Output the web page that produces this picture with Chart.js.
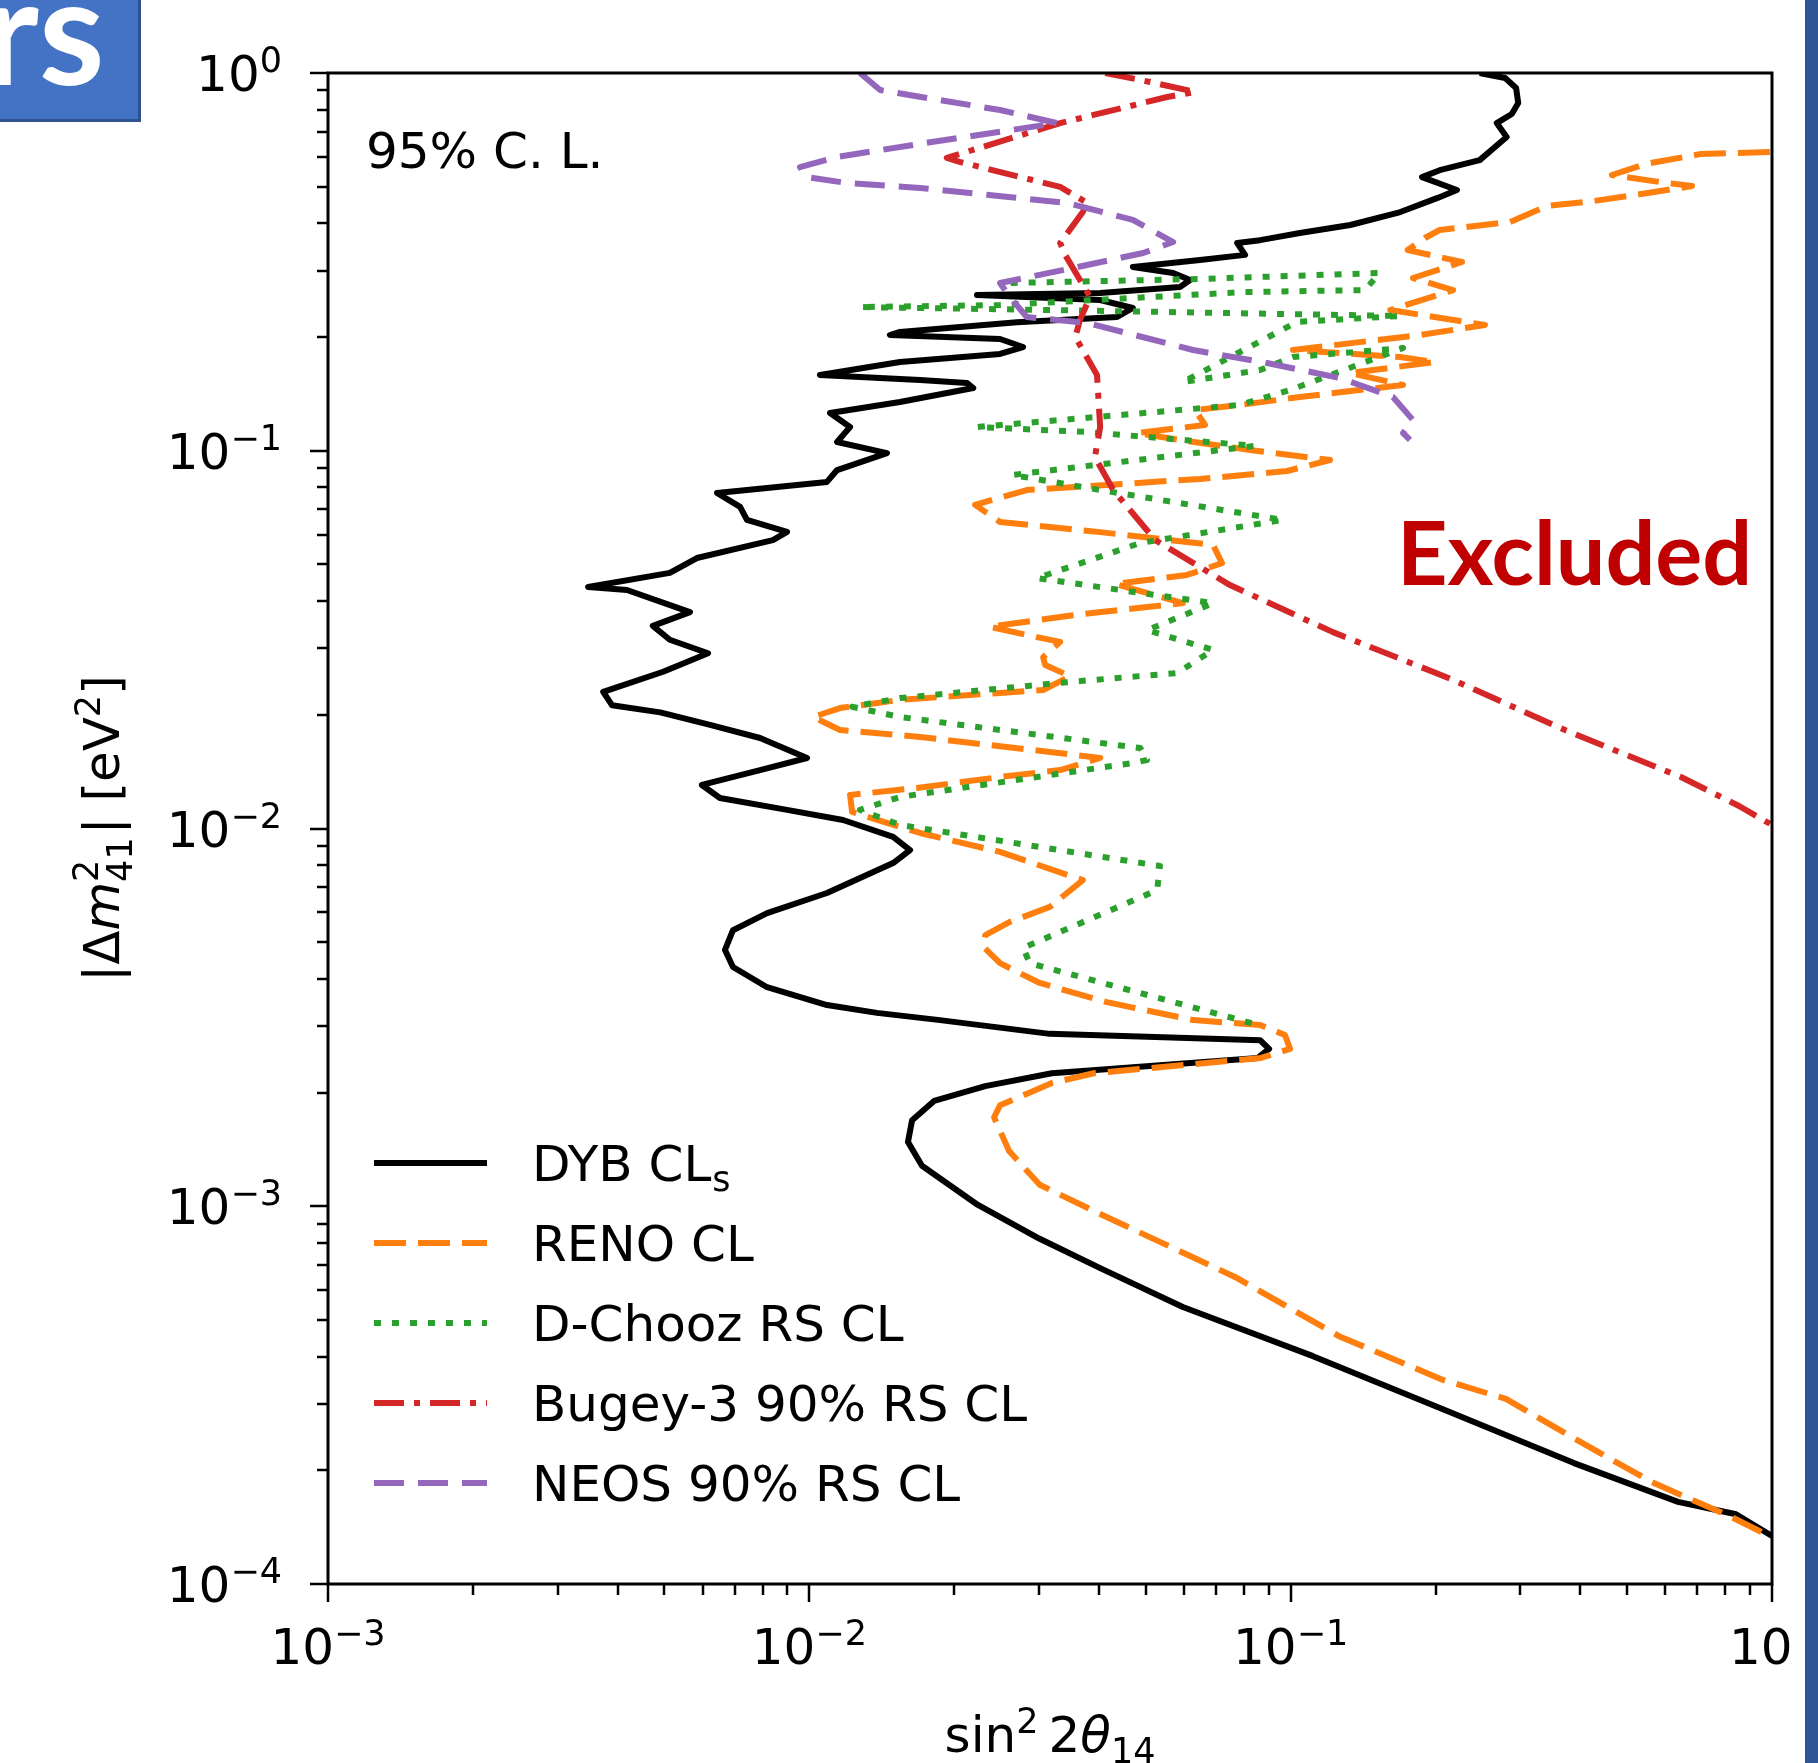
<!DOCTYPE html>
<html>
<head>
<meta charset="utf-8">
<script src="https://cdn.jsdelivr.net/npm/chart.js@4.4.1/dist/chart.umd.min.js"></script>
<style>
  body { margin: 0; background: #fff; }
  #wrap { position: relative; width: 1818px; height: 1763px; overflow: hidden; background: #fff; }
  #plot { position: absolute; left: 0; top: 0; }
  #slide-box { position: absolute; left: -4px; top: -4px; width: 145px; height: 126px; background: #4472C4; border: 3px solid #2F528F; box-sizing: border-box; }
  #slide-text { position: absolute; left: -17px; top: -48px; font: bold 150px Lato, sans-serif; line-height: 150px; color: #fff; }
  #crop { position: absolute; left: 1793px; top: 0; width: 12px; height: 1763px; background: #fff; }
  #side-bar { position: absolute; left: 1805px; top: 0; width: 13px; height: 1763px; background: #2F5597; }
  #excluded { position: absolute; left: 1397px; top: 507px; font: bold 88px Lato, sans-serif; line-height: 88px; color: #C00000; }
</style>
</head>
<body>
<div id="wrap">
  <canvas id="plot" width="1818" height="1763"></canvas>
  <div id="slide-box"></div>
  <div id="slide-text">rs</div>
  <div id="crop"></div>
  <div id="side-bar"></div>
  <div id="excluded">Excluded</div>
</div>
<script>
// axis ticks (base^exponent)
var xTickValues = [0.001, 0.01, 0.1, 1];
var xTickLabels = ['10^−3', '10^−2', '10^−1', '10^0'];
var yTickValues = [0.0001, 0.001, 0.01, 0.1, 1];
var yTickLabels = ['10^−4', '10^−3', '10^−2', '10^−1', '10^0'];

// contours, [sin^2 2theta14, dm2_41]
var dybCurve = [
  [0.247, 1.0], [0.279, 0.970], [0.294, 0.913], [0.297, 0.833], [0.288, 0.779], [0.268, 0.737],
  [0.281, 0.677], [0.247, 0.588], [0.204, 0.553], [0.1875, 0.530], [0.2215, 0.490], [0.202, 0.467],
  [0.169, 0.4285], [0.133, 0.396], [0.1045, 0.377], [0.0864, 0.361], [0.0774, 0.355], [0.0804, 0.330],
  [0.0648, 0.320], [0.047, 0.3065], [0.057, 0.2955], [0.0618, 0.283], [0.0589, 0.2713], [0.0402, 0.2616],
  [0.0223, 0.2584], [0.0402, 0.2506], [0.047, 0.2387], [0.0436, 0.226], [0.027, 0.219], [0.01543, 0.2063],
  [0.0147, 0.2025], [0.0249, 0.1976], [0.0278, 0.1882], [0.0249, 0.1804], [0.01543, 0.1718], [0.01052, 0.1587],
  [0.01698, 0.154], [0.02127, 0.1511], [0.0219, 0.1466], [0.01543, 0.1346], [0.01104, 0.1259], [0.01215, 0.1156],
  [0.01142, 0.1055], [0.0145, 0.0986], [0.01142, 0.0889], [0.01088, 0.0827], [0.00643, 0.0773], [0.00718, 0.071],
  [0.00742, 0.0656], [0.00899, 0.061], [0.0084, 0.058], [0.00584, 0.052], [0.00513, 0.0475], [0.00347, 0.0436],
  [0.00418, 0.0428], [0.00565, 0.0374], [0.00473, 0.0344], [0.00513, 0.0316], [0.00616, 0.0291], [0.00497, 0.026],
  [0.00373, 0.023], [0.00389, 0.0212], [0.0049, 0.0203], [0.00622, 0.0188], [0.0079, 0.01736], [0.00989, 0.01537],
  [0.0079, 0.01428], [0.00598, 0.01304], [0.00652, 0.01204], [0.00899, 0.0112], [0.01175, 0.01053], [0.01493, 0.0095],
  [0.01619, 0.00877], [0.01493, 0.0081], [0.01088, 0.00675], [0.00817, 0.00597], [0.00694, 0.00538], [0.00668, 0.00477],
  [0.00694, 0.0043], [0.00817, 0.0038], [0.01088, 0.00341], [0.01382, 0.00325], [0.01868, 0.00311], [0.0316, 0.00286],
  [0.0864, 0.00275], [0.0902, 0.00261], [0.0855, 0.00247], [0.0319, 0.00225], [0.0232, 0.00208], [0.01816, 0.0019],
  [0.01635, 0.00169], [0.01603, 0.00148], [0.01714, 0.00128], [0.0224, 0.001008], [0.0301, 0.00082], [0.0402, 0.000686],
  [0.0597, 0.000541], [0.1113, 0.000401], [0.2072, 0.00029], [0.3878, 0.000209], [0.638, 0.000165], [0.842, 0.000153],
  [1.0, 0.000134]
];
var renoCurve = [
  [0.99, 0.618], [0.709, 0.610], [0.545, 0.574], [0.465, 0.537], [0.585, 0.5145], [0.682, 0.502],
  [0.519, 0.4754], [0.427, 0.4584], [0.341, 0.4446], [0.2855, 0.4033], [0.204, 0.384], [0.190, 0.3658],
  [0.175, 0.340], [0.227, 0.316], [0.1795, 0.2866], [0.2175, 0.2663], [0.161, 0.2358], [0.2533, 0.2153],
  [0.1856, 0.2025], [0.1011, 0.1848], [0.1687, 0.177], [0.1994, 0.1718], [0.1328, 0.1606], [0.1712, 0.1493],
  [0.1045, 0.1388], [0.0785, 0.1322], [0.0633, 0.1282], [0.0664, 0.117], [0.048, 0.1114], [0.0589, 0.1068],
  [0.0823, 0.1005], [0.1207, 0.0945], [0.0983, 0.0884], [0.0648, 0.0842], [0.0283, 0.0787], [0.0221, 0.0719],
  [0.0249, 0.0648], [0.0402, 0.0609], [0.069, 0.0563], [0.072, 0.0504], [0.0609, 0.0469], [0.0432, 0.0444],
  [0.0597, 0.0395], [0.0487, 0.0384], [0.0353, 0.0367], [0.0237, 0.0342], [0.0297, 0.0321], [0.0332, 0.0312],
  [0.0306, 0.0284], [0.0309, 0.0271], [0.0348, 0.0253], [0.0306, 0.02326], [0.0249, 0.02284], [0.01543, 0.0219],
  [0.01158, 0.02084], [0.01018, 0.01973], [0.01158, 0.01823], [0.01698, 0.01747], [0.0316, 0.01594], [0.0402, 0.01537],
  [0.0332, 0.01428], [0.0249, 0.01369], [0.01674, 0.0128], [0.01215, 0.01227], [0.01227, 0.01106], [0.01698, 0.00973],
  [0.0249, 0.00867], [0.037, 0.0073], [0.0316, 0.0062], [0.0261, 0.00566], [0.0232, 0.00522], [0.023, 0.00486],
  [0.0249, 0.0044], [0.0301, 0.0039], [0.0415, 0.00347], [0.0627, 0.00311], [0.0864, 0.00302], [0.0973, 0.00284],
  [0.0997, 0.00261], [0.0868, 0.00247], [0.039, 0.00225], [0.0319, 0.00212], [0.0249, 0.00185], [0.0242, 0.00172],
  [0.026, 0.0014], [0.0301, 0.00114], [0.0402, 0.000954], [0.0766, 0.00065], [0.126, 0.000453], [0.2072, 0.000347],
  [0.280, 0.000309], [0.3878, 0.000243], [0.563, 0.000186], [0.818, 0.000151], [1.0, 0.000133]
];
var dchoozCurve = [
  [0.0262, 0.278], [0.0648, 0.285], [0.153, 0.2955], [0.1427, 0.2663], [0.0796, 0.263], [0.0249, 0.243],
  [0.01274, 0.2401], [0.0316, 0.2358], [0.1687, 0.2274], [0.1031, 0.2193], [0.0597, 0.152], [0.0864, 0.1636],
  [0.1011, 0.177], [0.1712, 0.187], [0.0997, 0.1448], [0.0785, 0.1322], [0.0223, 0.1156], [0.0378, 0.1121],
  [0.0843, 0.103], [0.0264, 0.0863], [0.0402, 0.0787], [0.0964, 0.0656], [0.0487, 0.057], [0.0297, 0.046],
  [0.069, 0.0395], [0.0503, 0.0335], [0.069, 0.0297], [0.0581, 0.0258], [0.0343, 0.0244], [0.01543, 0.02215],
  [0.01227, 0.021], [0.01543, 0.01973], [0.0487, 0.01633], [0.0503, 0.01518], [0.047, 0.01491], [0.01543, 0.01212],
  [0.01274, 0.0112], [0.01543, 0.01022], [0.0535, 0.00796], [0.0528, 0.00687], [0.0278, 0.00483], [0.0287, 0.0044],
  [0.0864, 0.00301]
];
var bugeyCurve = [
  [0.0412, 1.0], [0.051, 0.947], [0.0633, 0.891], [0.0554, 0.864], [0.0332, 0.737], [0.0193, 0.5957],
  [0.0206, 0.581], [0.0332, 0.4993], [0.0378, 0.4529], [0.037, 0.4285], [0.0332, 0.355], [0.034, 0.330],
  [0.0383, 0.2553], [0.0365, 0.222], [0.0357, 0.2], [0.0396, 0.1587], [0.0402, 0.1156], [0.0392, 0.0962],
  [0.0428, 0.0787], [0.0523, 0.058], [0.0748, 0.0441], [0.1224, 0.0331], [0.2133, 0.025], [0.3714, 0.01823],
  [0.647, 0.01369], [0.854, 0.01147], [1.0, 0.01022]
];
var neosCurve = [
  [0.01274, 1.0], [0.01403, 0.9016], [0.01756, 0.8586], [0.0249, 0.798], [0.0327, 0.737], [0.01642, 0.645],
  [0.01142, 0.5993], [0.00956, 0.5637], [0.00989, 0.530], [0.01198, 0.5114], [0.01698, 0.4962], [0.0343, 0.4529],
  [0.047, 0.4083], [0.057, 0.3569], [0.0494, 0.3339], [0.0353, 0.3046], [0.0249, 0.278], [0.0261, 0.2553],
  [0.0283, 0.226], [0.0378, 0.218], [0.0627, 0.1848], [0.0893, 0.1707], [0.1266, 0.1558], [0.1631, 0.1388],
  [0.1795, 0.1206], [0.1712, 0.1114], [0.177, 0.1068]
];

var seriesNames = ['DYB CL', 'RENO CL', 'D-Chooz RS CL', 'Bugey-3 90% RS CL', 'NEOS 90% RS CL'];
var seriesColors = ['#000000', '#ff7f0e', '#2ca02c', '#d62728', '#9467bd'];
var seriesDashes = [[], [32, 12], [7, 11], [30, 10, 6, 10], [30, 14]];
var curves = [dybCurve, renoCurve, dchoozCurve, bugeyCurve, neosCurve];

var FONT = '"DejaVu Sans", sans-serif';
var BIG = '50px ' + FONT, SMALL = '35px ' + FONT, ITAL = 'italic 50px ' + FONT;

function toPoints(curve) {
    return curve.map(function (p) { return {x: p[0], y: p[1]}; });
}

// draw a run of text pieces [text, font, dy, advance]; returns the total width
function drawRun(ctx, pieces, x, y, measureOnly) {
    var cx = x;
    pieces.forEach(function (p) {
        ctx.font = p[1];
        var w = ctx.measureText(p[0]).width;
        if (!measureOnly) ctx.fillText(p[0], cx, y + (p[2] || 0));
        cx += (p[3] !== undefined) ? p[3] : w;
    });
    return cx - x;
}

function powPieces(label) {
    var parts = label.split('^');
    return [[parts[0], BIG, 0], [parts[1], SMALL, -19]];
}

// frame, outward ticks, tick labels, axis titles, legend and the C.L. note
var decor = {
    id: 'decor',
    afterDatasetsDraw: function (chart) {
        var ctx = chart.ctx, a = chart.chartArea;
        var xs = chart.scales.x, ys = chart.scales.y;
        ctx.save();
        ctx.strokeStyle = '#000';
        ctx.lineWidth = 3;
        ctx.strokeRect(a.left, a.top, a.right - a.left, a.bottom - a.top);

        ctx.lineWidth = 2.5;
        ctx.beginPath();
        for (var e = -3; e <= 0; e++) {
            for (var m = 1; m <= 9; m++) {
                var v = m * Math.pow(10, e);
                if (v > 1.0001) break;
                var px = Math.round(xs.getPixelForValue(v));
                ctx.moveTo(px, a.bottom);
                ctx.lineTo(px, a.bottom + (m === 1 ? 18 : 11));
            }
        }
        for (var e2 = -4; e2 <= 0; e2++) {
            for (var m2 = 1; m2 <= 9; m2++) {
                var v2 = m2 * Math.pow(10, e2);
                if (v2 > 1.0001) break;
                var py = Math.round(ys.getPixelForValue(v2));
                ctx.moveTo(a.left, py);
                ctx.lineTo(a.left - (m2 === 1 ? 18 : 11), py);
            }
        }
        ctx.stroke();

        ctx.fillStyle = '#000';
        ctx.textAlign = 'left';
        ctx.textBaseline = 'alphabetic';

        // tick labels
        xs.ticks.forEach(function (t, i) {
            var pieces = powPieces(xTickLabels[i]);
            var w = drawRun(ctx, pieces, 0, 0, true);
            drawRun(ctx, pieces, xs.getPixelForValue(t.value) - w / 2, a.bottom + 80);
        });
        ys.ticks.forEach(function (t, i) {
            var pieces = powPieces(yTickLabels[i]);
            var w = drawRun(ctx, pieces, 0, 0, true);
            drawRun(ctx, pieces, a.left - 46 - w, ys.getPixelForValue(t.value) + 18);
        });

        // x title: sin^2 2theta_14
        ctx.font = SMALL;
        var supW = ctx.measureText('2').width;
        var xt = [['sin', BIG, 0], ['2', SMALL, -19, supW + 10], ['2', BIG, 0], ['θ', ITAL, 0], ['14', SMALL, 11]];
        var xw = drawRun(ctx, xt, 0, 0, true);
        drawRun(ctx, xt, (a.left + a.right) / 2 - xw / 2, 1752);

        // y title: |Delta m^2_41| [eV^2], rotated
        var subW = ctx.measureText('41').width;
        var yt = [['|Δ', BIG, 0], ['m', ITAL, 0], ['2', SMALL, -21, 0], ['41', SMALL, 13, subW + 3],
                  ['| [eV', BIG, 0], ['2', SMALL, -19], [']', BIG, 0]];
        var yw = drawRun(ctx, yt, 0, 0, true);
        ctx.save();
        ctx.translate(119, (a.top + a.bottom) / 2 + yw / 2);
        ctx.rotate(-Math.PI / 2);
        drawRun(ctx, yt, 0, 0);
        ctx.restore();

        // legend
        chart.data.datasets.forEach(function (ds, i) {
            var y = 1163 + 80 * i;
            ctx.save();
            ctx.strokeStyle = ds.borderColor;
            ctx.lineWidth = 6;
            ctx.setLineDash(ds.borderDash);
            ctx.beginPath();
            ctx.moveTo(374, y);
            ctx.lineTo(487, y);
            ctx.stroke();
            ctx.restore();
            ctx.font = BIG;
            ctx.fillText(ds.label, 532, y + 18);
            if (i === 0) {
                var w = ctx.measureText(ds.label).width;
                ctx.font = SMALL;
                ctx.fillText('s', 532 + w + 1, y + 28);
            }
        });

        ctx.font = BIG;
        ctx.fillText('95% C. L.', 366, 168);
        ctx.restore();
    }
};

var plot = new Chart(document.getElementById('plot'), {
    type: 'scatter',
    data: {
        datasets: curves.map(function (c, i) {
            return {
                label: seriesNames[i],
                data: toPoints(c),
                showLine: true,
                borderColor: seriesColors[i],
                backgroundColor: seriesColors[i],
                borderWidth: 6,
                borderDash: seriesDashes[i],
                borderCapStyle: 'butt',
                borderJoinStyle: 'round',
                pointRadius: 0,
                tension: 0,
                fill: false,
                order: 5 - i
            };
        })
    },
    options: {
        responsive: false,
        animation: false,
        devicePixelRatio: 1,
        layout: {padding: {left: 0, top: 73, right: 46, bottom: 0}},
        plugins: {legend: {display: false}, tooltip: {enabled: false}},
        scales: {
            x: {
                type: 'logarithmic',
                position: 'bottom',
                min: 0.001,
                max: 1,
                afterBuildTicks: function (s) { s.ticks = xTickValues.map(function (v) { return {value: v}; }); },
                afterFit: function (s) { s.height = 179; s.paddingLeft = 0; s.paddingRight = 0; },
                grid: {display: false, drawTicks: false},
                border: {display: false},
                ticks: {display: false, autoSkip: false}
            },
            y: {
                type: 'logarithmic',
                position: 'left',
                min: 0.0001,
                max: 1,
                afterBuildTicks: function (s) { s.ticks = yTickValues.map(function (v) { return {value: v}; }); },
                afterFit: function (s) { s.width = 328; s.paddingTop = 0; s.paddingBottom = 0; },
                grid: {display: false, drawTicks: false},
                border: {display: false},
                ticks: {display: false, autoSkip: false}
            }
        }
    },
    plugins: [decor]
});
</script>
</body>
</html>
